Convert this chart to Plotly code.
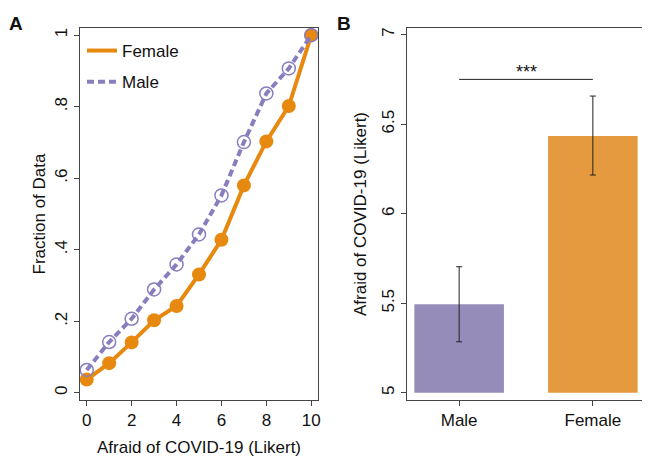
import plotly.graph_objects as go

# ---- data ----
likert = [0, 1, 2, 3, 4, 5, 6, 7, 8, 9, 10]
female_cdf = [0.037, 0.083, 0.141, 0.203, 0.243, 0.331, 0.428, 0.580, 0.703, 0.802, 1.0]
male_cdf = [0.064, 0.142, 0.207, 0.289, 0.359, 0.443, 0.552, 0.701, 0.837, 0.907, 1.0]

groups = ["Male", "Female"]
group_means = [5.494, 6.434]
err_plus = [0.21, 0.223]
err_minus = [0.209, 0.218]
sig_label = "***"
sig_y = 6.75

y_ticks_a = [0, 0.2, 0.4, 0.6, 0.8, 1.0]
y_ticklabels_a = ["0", ".2", ".4", ".6", ".8", "1"]
x_ticks_a = [0, 2, 4, 6, 8, 10]
y_ticks_b = [5, 5.5, 6, 6.5, 7]
y_ticklabels_b = ["5", "5.5", "6", "6.5", "7"]

ORANGE = "#E8890F"
PURPLE = "#8A7DBE"
BAR_ORANGE = "#E69A40"
BAR_PURPLE = "#968CBA"
FONT = "Liberation Sans, Arial, Helvetica, sans-serif"

W, H, OFF = 650, 458, 8  # page body margin offset


def px_x(p):
    return (p - OFF) / W


def px_y(p):
    return 1 - (p - OFF) / H


fig = go.Figure()

# Panel A lines
fig.add_trace(go.Scatter(x=likert, y=female_cdf, mode="lines+markers",
                         line=dict(color=ORANGE, width=4),
                         marker=dict(color=ORANGE, size=14, symbol="circle"),
                         showlegend=False, xaxis="x", yaxis="y"))
fig.add_trace(go.Scatter(x=likert, y=male_cdf, mode="lines+markers",
                         line=dict(color=PURPLE, width=4, dash="7px,4px"),
                         marker=dict(color=PURPLE, size=13, symbol="circle-open",
                                     line=dict(width=1.5, color=PURPLE)),
                         showlegend=False, xaxis="x", yaxis="y"))
# legend entries (line only)
fig.add_trace(go.Scatter(x=[None], y=[None], mode="lines", name="Female",
                         legendgroup="f", line=dict(color=ORANGE, width=4),
                         xaxis="x", yaxis="y"))
fig.add_trace(go.Scatter(x=[None], y=[None], mode="lines", name="Male",
                         legendgroup="m", line=dict(color=PURPLE, width=4, dash="7px,4px"),
                         xaxis="x", yaxis="y"))

# Panel B bars
fig.add_trace(go.Bar(x=[0, 1], y=[m - 5 for m in group_means], base=5,
                     width=0.67,
                     marker=dict(color=[BAR_PURPLE, BAR_ORANGE], line=dict(width=0)),
                     error_y=dict(type="data", array=err_plus, arrayminus=err_minus,
                                  color="#222222", thickness=1, width=3),
                     showlegend=False, xaxis="x2", yaxis="y2"))

FS = 17
axis_common = dict(showline=True, linecolor="#444444", linewidth=1, mirror=True,
                   ticks="outside", ticklen=5, tickcolor="#444444",
                   showgrid=False, zeroline=False,
                   tickfont=dict(size=FS, color="#111111", family=FONT))

fig.update_layout(
    width=W, height=H,
    margin=dict(l=0, r=0, t=0, b=0),
    paper_bgcolor="white", plot_bgcolor="white",
    font=dict(family=FONT, size=FS, color="#111111"),
    xaxis=dict(domain=[px_x(80), px_x(318)], range=[-0.3, 10.3],
               tickvals=x_ticks_a, anchor="y",
               title=dict(text="Afraid of COVID-19 (Likert)", standoff=11,
                          font=dict(size=FS)),
               automargin=False, **axis_common),
    yaxis=dict(domain=[px_y(400), px_y(28)], range=[-0.02, 1.02],
               tickvals=y_ticks_a, ticktext=y_ticklabels_a, tickangle=-90,
               anchor="x",
               title=dict(text="Fraction of Data", standoff=2, font=dict(size=FS)),
               automargin=False, **axis_common),
    xaxis2=dict(domain=[px_x(407), px_x(645)], range=[-0.39, 1.39],
                tickvals=[0, 1], ticktext=groups, anchor="y2",
                automargin=False, **axis_common),
    yaxis2=dict(domain=[px_y(400), px_y(28)], range=[4.96, 7.037],
                tickvals=y_ticks_b, ticktext=y_ticklabels_b, tickangle=-90,
                anchor="x2",
                title=dict(text="Afraid of COVID-19 (Likert)", standoff=8,
                           font=dict(size=FS)),
                automargin=False, **axis_common),
    legend=dict(x=px_x(82), y=px_y(33), xanchor="left", yanchor="top",
                bgcolor="rgba(0,0,0,0)", font=dict(size=FS),
                traceorder="grouped", tracegroupgap=6),
    shapes=[dict(type="line", xref="x2", yref="y2", x0=0, x1=1, y0=sig_y, y1=sig_y,
                 line=dict(color="#222222", width=1))],
    annotations=[
        dict(text=sig_label, xref="x2", yref="y2", x=0.5, y=sig_y, yanchor="bottom",
             yshift=-5, showarrow=False, font=dict(size=18, color="#111111")),
        dict(text="<b>A</b>", xref="paper", yref="paper", x=px_x(7), y=px_y(11),
             xanchor="left", yanchor="top", showarrow=False, font=dict(size=19)),
        dict(text="<b>B</b>", xref="paper", yref="paper", x=px_x(335), y=px_y(11),
             xanchor="left", yanchor="top", showarrow=False, font=dict(size=19)),
    ],
)

fig.write_html("out.html")
